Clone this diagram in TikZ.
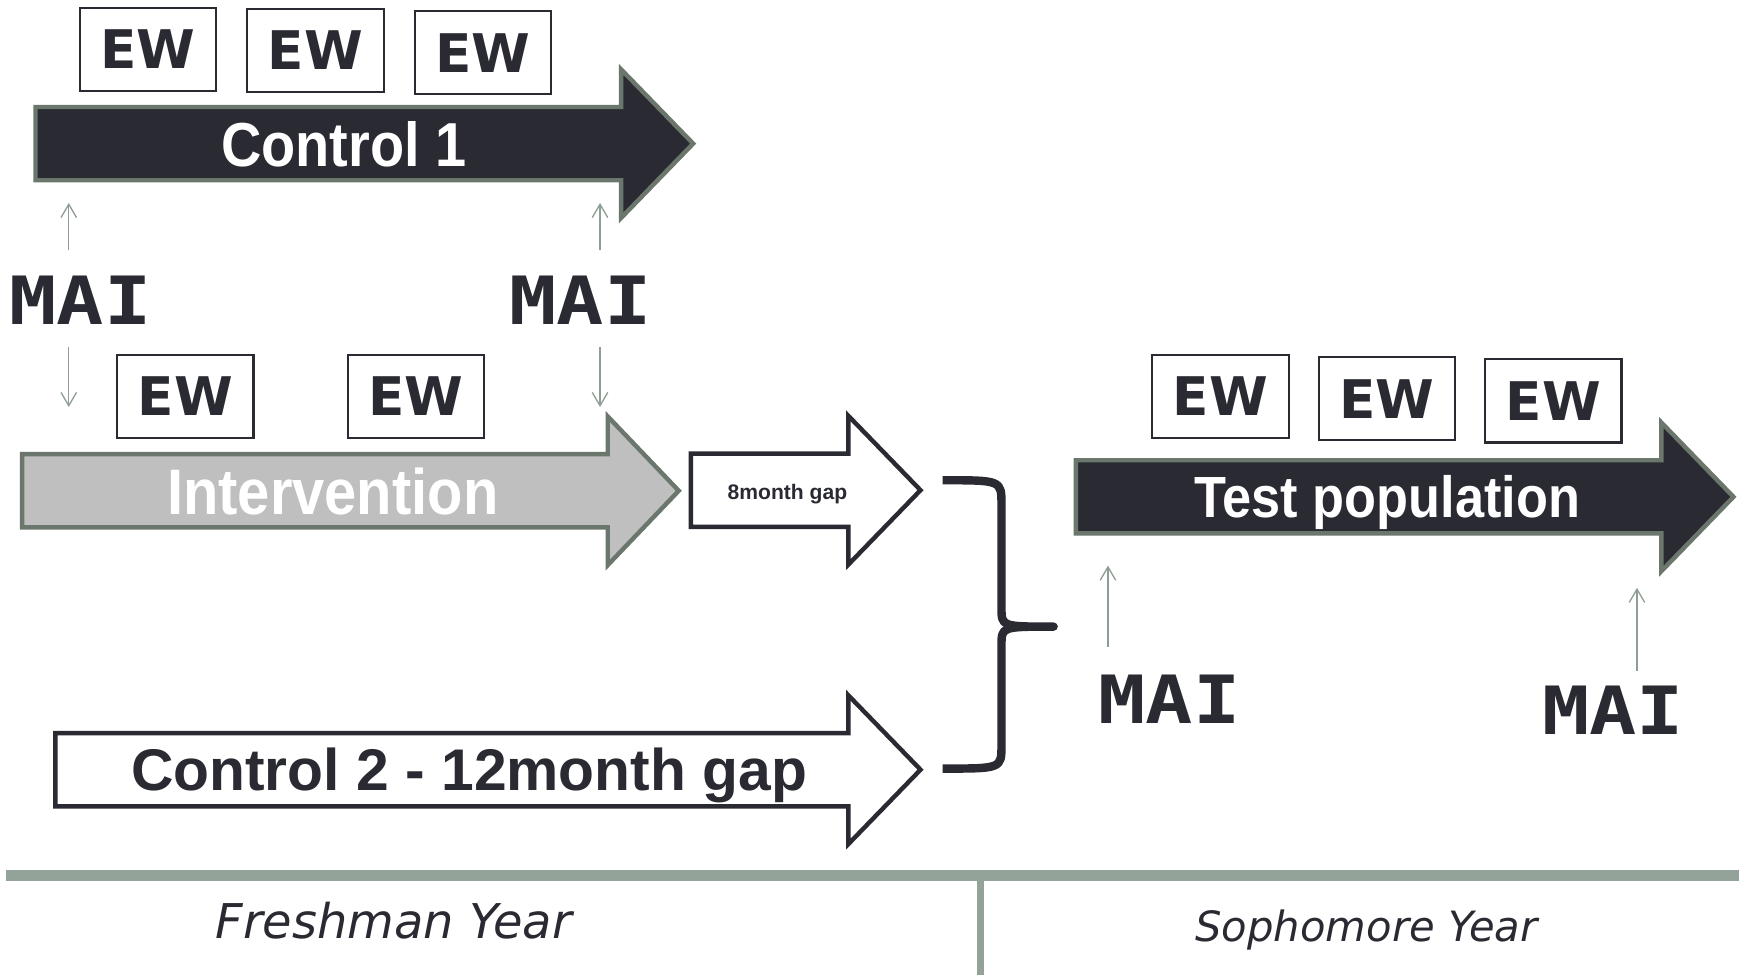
\documentclass[tikz,border=0pt]{standalone}
\usepackage{fontspec}
\setmainfont{DejaVu Sans}
\newfontfamily\arialfont{Liberation Sans}
\newfontfamily\narrowfont{Liberation Sans}[FakeStretch=0.9]
\newfontfamily\maifont{DejaVu Sans Mono}[FakeStretch=1.18]
\usetikzlibrary{positioning, arrows.meta}

\definecolor{darkbar}{HTML}{2A2A33}
\definecolor{edgegreen}{HTML}{6B776D}
\definecolor{lightbar}{HTML}{BFBFBF}
\definecolor{rulegreen}{HTML}{94A39A}
\definecolor{tickgreen}{HTML}{8E9E94}

% fat block arrow: [style]{x start}{x head}{x tip}{y middle}
\newcommand{\fatarrow}[5][]{%
  \draw[#1] (#2,#5-33) -- (#3,#5-33) -- (#3,#5-67) -- (#4,#5)
    -- (#3,#5+67) -- (#3,#5+33) -- (#2,#5+33) -- cycle;}

\begin{document}
\begin{tikzpicture}[x=0.5pt,y=-0.5pt,>={Straight Barb[length=6pt,width=7pt]},
    ew/.style={draw=darkbar,line width=1pt,fill=white,minimum width=61.5pt,
      minimum height=37.5pt,inner sep=0pt,text=darkbar,
      font=\bfseries\fontsize{24}{24}\selectfont},
    mai/.style={inner sep=0pt,anchor=base,text=darkbar,
      font=\maifont\bfseries\fontsize{30}{30}\selectfont},
    bartext/.style={inner sep=0pt,anchor=base,text=white,
      font=\narrowfont\bfseries\fontsize{28}{28}\selectfont},
    darkarrow/.style={fill=darkbar,draw=edgegreen,line width=2pt},
    greyarrow/.style={fill=lightbar,draw=edgegreen,line width=2pt},
    openarrow/.style={fill=white,draw=darkbar,line width=2pt},
    tick/.style={->,draw=tickgreen,line width=0.6pt},
    year/.style={inner sep=0pt,anchor=base,text=darkbar,font=\itshape}]
  \useasboundingbox (0,0) rectangle (1568,879);

  % arrows
  \fatarrow[darkarrow]{32}{560}{625}{129.5}
  \fatarrow[greyarrow]{20}{548}{612}{442.5}
  \fatarrow[openarrow]{623}{765}{830}{442}
  \fatarrow[openarrow]{50}{765}{830}{694}
  \fatarrow[darkarrow]{970}{1498}{1563}{448}

  \node[bartext] (ctrl1) at (310,150) {Control 1};
  \node[bartext,font=\narrowfont\bfseries\fontsize{29}{29}\selectfont] (interv) at (300,464) {Intervention};
  \node[bartext,font=\narrowfont\bfseries\fontsize{26.2}{26}\selectfont] (testpop) at (1251,467) {Test population};
  \node[bartext,text=darkbar,font=\arialfont\bfseries\fontsize{26.5}{27}\selectfont] (ctrl2) at (423,713) {Control 2 - 12month gap};
  \node[bartext,text=darkbar,font=\arialfont\bfseries\fontsize{9.5}{10}\selectfont] (gap8) at (710,450) {8month gap};

  % EW boxes
  \node[ew] (ew1) at (133.5,44.5) {EW};
  \node[ew,right=13pt of ew1,yshift=-0.5pt] (ew2) {EW};
  \node[ew,right=13pt of ew2,yshift=-1pt] (ew3) {EW};
  \node[ew] (ew4) at (167,357.5) {EW};
  \node[ew,right=41.5pt of ew4] (ew5) {EW};
  \node[ew] (ew6) at (1100.5,357.5) {EW};
  \node[ew,right=12.5pt of ew6,yshift=-1pt] (ew7) {EW};
  \node[ew,right=12.5pt of ew7,yshift=-1pt] (ew8) {EW};

  % MAI
  \node[mai] (mai1) at (72.5,293) {MAI};
  \node[mai] (mai2) at (523.5,293) {MAI};
  \node[mai] (mai3) at (1054.5,652) {MAI};
  \node[mai] (mai4) at (1454.5,662) {MAI};

  \draw[tick] ([shift={(-10.5,-68)}]mai1.base) -- ++(0,-42);
  \draw[tick] ([shift={(17.5,-68)}]mai2.base) -- ++(0,-42);
  \draw[tick] ([shift={(-10.5,20)}]mai1.base) -- ++(0,54);
  \draw[tick] ([shift={(17.5,20)}]mai2.base) -- ++(0,54);
  \draw[tick] ([shift={(-55.5,-69)}]mai3.base) -- ++(0,-73);
  \draw[tick] ([shift={(21.5,-57)}]mai4.base) -- ++(0,-75);

  % brace
  \draw[darkbar,line width=3.8pt,line join=round]
    (850,433) .. controls (903,433) .. (903,455) -- (903,548)
    .. controls (903,565) .. (950,565)
    .. controls (903,565) .. (903,582) -- (903,672)
    .. controls (903,693) .. (850,693);

  % year line
  \draw[rulegreen,line width=5pt] (5,789) -- (1568,789);
  \draw[rulegreen,line width=3pt] (884,792) -- (884,879);
  \node[year,font=\itshape\fontsize{21.6}{22}\selectfont] (fresh) at (355,846) {Freshman Year};
  \node[year,font=\itshape\fontsize{18.8}{19}\selectfont] (soph) at (1232,849) {Sophomore Year};
\end{tikzpicture}
\end{document}
